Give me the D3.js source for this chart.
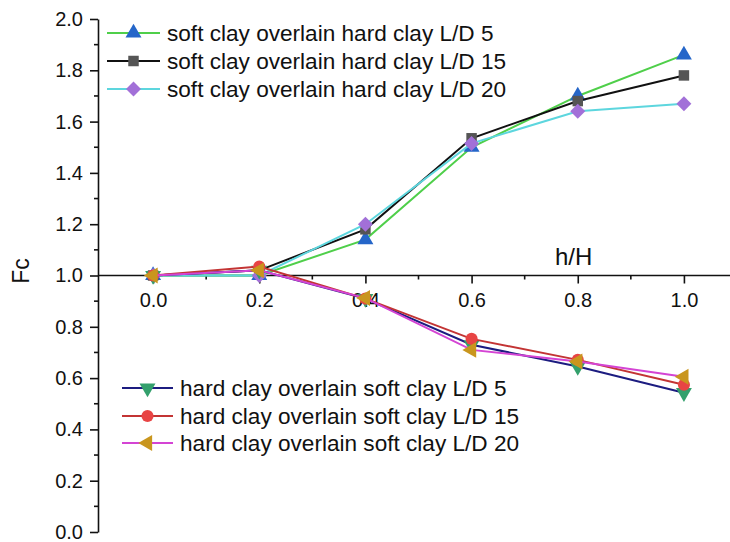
<!DOCTYPE html>
<html>
<head>
<meta charset="utf-8">
<script src="https://cdn.jsdelivr.net/npm/d3@7"></script>
<style>
  body { margin: 0; background: #fff; }
  svg { display: block; font-family: "Liberation Sans", Arial, sans-serif; }
</style>
</head>
<body>
<script>
// data
var hH = [0.0, 0.2, 0.4, 0.6, 0.8, 1.0];

var softHard5  = [1.00, 1.00, 1.14, 1.50, 1.70, 1.86];
var softHard15 = [1.00, 1.02, 1.18, 1.535, 1.68, 1.78];
var softHard20 = [1.00, 1.00, 1.20, 1.515, 1.64, 1.67];

var hardSoft5  = [1.00, 1.02, 0.91, 0.73, 0.645, 0.543];
var hardSoft15 = [1.00, 1.035, 0.91, 0.753, 0.671, 0.574];
var hardSoft20 = [1.00, 1.02, 0.912, 0.71, 0.665, 0.605];

var xTicks = [0.0, 0.2, 0.4, 0.6, 0.8, 1.0];
var yTicks = [0.0, 0.2, 0.4, 0.6, 0.8, 1.0, 1.2, 1.4, 1.6, 1.8, 2.0];

var series = [
  { name: 'soft clay overlain hard clay L/D 5',  vals: softHard5,  line: '#4fcf4a', fill: '#2566c9', sym: 'tri' },
  { name: 'soft clay overlain hard clay L/D 15', vals: softHard15, line: '#111111', fill: '#555555', sym: 'square' },
  { name: 'soft clay overlain hard clay L/D 20', vals: softHard20, line: '#5dd6de', fill: '#a270d8', sym: 'diamond' },
  { name: 'hard clay overlain soft clay L/D 5',  vals: hardSoft5,  line: '#1c1c80', fill: '#33a06c', sym: 'triDown' },
  { name: 'hard clay overlain soft clay L/D 15', vals: hardSoft15, line: '#c33434', fill: '#e84444', sym: 'circle' },
  { name: 'hard clay overlain soft clay L/D 20', vals: hardSoft20, line: '#d444d4', fill: '#c9961e', sym: 'triLeft' }
];

var W = 730, H = 542;
var svg = d3.select('body').append('svg').attr('width', W).attr('height', H);

var x = d3.scaleLinear().domain([-0.1, 1.1]).range([100, 737]);
var y = d3.scaleLinear().domain([0, 2]).range([532, 19]);

// marker shapes
function symPath(sym) {
  var s;
  if (sym === 'square') s = d3.symbol(d3.symbolSquare, 110);
  else if (sym === 'diamond') s = d3.symbol(d3.symbolSquare, 112);
  else if (sym === 'circle') s = d3.symbol(d3.symbolCircle, 115);
  else s = d3.symbol(d3.symbolTriangle, 110);
  return s();
}
function symRot(sym) {
  if (sym === 'triDown') return 180;
  if (sym === 'triLeft') return -90;
  if (sym === 'diamond') return 45;
  return 0;
}

// y axis
var yAxis = d3.axisLeft(y).tickValues(yTicks).tickFormat(d3.format('.1f')).tickSize(8).tickSizeOuter(0);
var gy = svg.append('g').attr('transform', 'translate(98,0)').call(yAxis);
gy.selectAll('text').attr('font-size', 20).attr('fill', '#111').attr('dx', -4);
gy.selectAll('line, path').attr('stroke', '#111').attr('stroke-width', 1.6);
gy.selectAll('.minor').data(d3.range(0.1, 2.0, 0.2)).enter().append('line')
  .attr('x1', -4).attr('x2', 0).attr('y1', function (d) { return y(d); }).attr('y2', function (d) { return y(d); })
  .attr('stroke', '#111').attr('stroke-width', 1.6);

// x axis crossing at Fc = 1
var xAxis = d3.axisBottom(x).tickValues(xTicks).tickFormat(d3.format('.1f')).tickSize(8).tickSizeOuter(0);
var gx = svg.append('g').attr('transform', 'translate(0,' + y(1) + ')').call(xAxis);
gx.select('.domain').attr('d', 'M98,0H730');
gx.selectAll('text').attr('font-size', 20).attr('fill', '#111').attr('dy', '1.0em');
gx.selectAll('line, path').attr('stroke', '#111').attr('stroke-width', 1.6);
gx.selectAll('.minor').data(d3.range(0.1, 1.0, 0.2)).enter().append('line')
  .attr('x1', function (d) { return x(d); }).attr('x2', function (d) { return x(d); })
  .attr('y1', 0).attr('y2', 4)
  .attr('stroke', '#111').attr('stroke-width', 1.6);

// axis titles
svg.append('text').attr('x', 555).attr('y', 265).attr('font-size', 24).attr('fill', '#111').text('h/H');
svg.append('text').attr('transform', 'translate(29,271) rotate(-90)').attr('text-anchor', 'middle')
  .attr('font-size', 23).attr('fill', '#111').text('Fc');

// series
var line = d3.line().x(function (d, i) { return x(hH[i]); }).y(function (d) { return y(d); });
series.forEach(function (s) {
  var g = svg.append('g');
  g.append('path').attr('d', line(s.vals)).attr('fill', 'none').attr('stroke', s.line).attr('stroke-width', 2);
  g.selectAll('path.pt').data(s.vals).enter().append('path').attr('class', 'pt')
    .attr('d', symPath(s.sym)).attr('fill', s.fill)
    .attr('transform', function (d, i) { return 'translate(' + x(hH[i]) + ',' + y(d) + ') rotate(' + symRot(s.sym) + ')'; });
});

// legends
function legend(list, x0, x1, tx, rows) {
  list.forEach(function (s, i) {
    var g = svg.append('g').attr('transform', 'translate(0,' + rows[i] + ')');
    g.append('line').attr('x1', x0).attr('x2', x1).attr('y1', 0).attr('y2', 0).attr('stroke', s.line).attr('stroke-width', 2);
    g.append('path').attr('d', symPath(s.sym)).attr('fill', s.fill)
      .attr('transform', 'translate(' + ((x0 + x1) / 2) + ',0) rotate(' + symRot(s.sym) + ')');
    g.append('text').attr('x', tx).attr('y', 0).attr('dy', '0.36em').attr('font-size', 22.6).attr('fill', '#111').text(s.name);
  });
}
legend(series.slice(0, 3), 107, 160, 167, [33, 61, 89]);
legend(series.slice(3), 122, 173, 180, [388, 416, 443]);
</script>
</body>
</html>
